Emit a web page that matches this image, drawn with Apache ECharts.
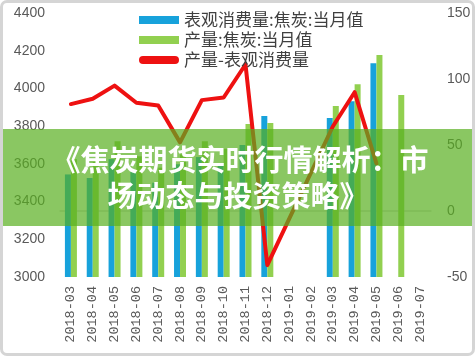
<!DOCTYPE html>
<html>
<head>
<meta charset="utf-8">
<script src="https://cdn.jsdelivr.net/npm/echarts@6/dist/echarts.min.js"></script>
<style>
html,body{margin:0;padding:0;background:#fff;}
#wrap{position:relative;width:475px;height:356px;overflow:hidden;}
#chart{position:absolute;left:0;top:0;width:475px;height:356px;}
#frame{position:absolute;left:0;top:0;width:475px;height:356px;box-sizing:border-box;border:3px solid #d5d5d5;border-radius:7px;pointer-events:none;}
</style>
</head>
<body>
<div id="wrap"><div id="chart"></div><div id="frame"></div></div>
<script>
const categories = ['2018-03','2018-04','2018-05','2018-06','2018-07','2018-08','2018-09','2018-10','2018-11','2018-12','2019-01','2019-02','2019-03','2019-04','2019-05','2019-06','2019-07'];
const consumption = [3544, 3525, 3625, 3558, 3500, 3598, 3636, 3594, 3700, 3854, null, null, 3843, 3932, 4133, null, null];
const production  = [3625, 3610, 3720, 3640, 3580, 3650, 3720, 3680, 3811, 3817, null, null, 3907, 4022, 4177, 3965, null];
const difference  = [81, 85, 95, 82, 80, 52, 84, 86, 111, -41, null, null, 64, 90, 36, null, null];
const seriesNames = ['表观消费量:焦炭:当月值', '产量:焦炭:当月值', '产量-表观消费量'];
const bannerLines = ['《焦炭期货实时行情解析：市', '场动态与投资策略》'];

const chart = echarts.init(document.getElementById('chart'), null, {renderer: 'canvas'});
const axisFont = {color: '#595959', fontSize: 14, fontFamily: 'Liberation Sans', formatter: function (v) { return String(v); }};
chart.setOption({
  animation: false,
  backgroundColor: '#ffffff',
  grid: {left: 60, right: 44, top: 13, bottom: 79, containLabel: false},
  legend: {
    orient: 'vertical', left: 134, top: 5, itemGap: 0, itemWidth: 40, itemHeight: 8,
    textStyle: {color: '#404040', fontSize: 17, lineHeight: 20, fontFamily: 'Noto Sans CJK SC'},
    data: [
      {name: seriesNames[0], icon: 'rect'},
      {name: seriesNames[1], icon: 'rect'},
      {name: seriesNames[2], icon: 'path://M4,0 L36,0 A4,4 0 0 1 36,8 L4,8 A4,4 0 0 1 4,0 Z', itemStyle: {color: '#EE1111'}}
    ]
  },
  xAxis: {
    type: 'category', data: categories, boundaryGap: true,
    axisLine: {show: true, lineStyle: {color: '#d9d9d9', width: 1.5}},
    axisTick: {show: false},
    axisLabel: {rotate: 90, margin: 9, interval: 0, color: '#595959', fontSize: 13.5, fontFamily: 'Liberation Mono'}
  },
  yAxis: [
    {type: 'value', min: 3000, max: 4400, interval: 200, position: 'left',
     axisLine: {show: false}, axisTick: {show: false}, splitLine: {show: false},
     axisLabel: Object.assign({margin: 15}, axisFont)},
    {type: 'value', min: -50, max: 150, interval: 50, position: 'right',
     axisLine: {show: false}, axisTick: {show: false}, splitLine: {show: false},
     axisLabel: Object.assign({margin: 16}, axisFont)}
  ],
  series: [
    {name: seriesNames[0], type: 'bar', yAxisIndex: 0, data: consumption, barWidth: 6, barGap: '0%',
     itemStyle: {color: '#17A2DB'}},
    {name: seriesNames[1], type: 'bar', yAxisIndex: 0, data: production, barWidth: 6, barGap: '0%',
     itemStyle: {color: '#92D050'}},
    {name: seriesNames[2], type: 'line', yAxisIndex: 1, data: difference, connectNulls: true,
     symbol: 'none', lineStyle: {color: '#EE1111', width: 4, cap: 'round', join: 'round'},
     itemStyle: {color: '#EE1111'}, z: 3}
  ],
  graphic: [
    {type: 'rect', z: 100, shape: {x: 3, y: 129, width: 469, height: 97},
     style: {fill: 'rgba(89,175,32,0.7)'}},
    {type: 'text', z: 101, x: 240, y: 160,
     style: {text: bannerLines[0], fill: '#ffffff', font: 'bold 29px "Noto Sans CJK SC"', align: 'center', verticalAlign: 'middle'}},
    {type: 'text', z: 101, x: 238, y: 196,
     style: {text: bannerLines[1], fill: '#ffffff', font: 'bold 29px "Noto Sans CJK SC"', align: 'center', verticalAlign: 'middle'}}
  ]
});
</script>
</body>
</html>
